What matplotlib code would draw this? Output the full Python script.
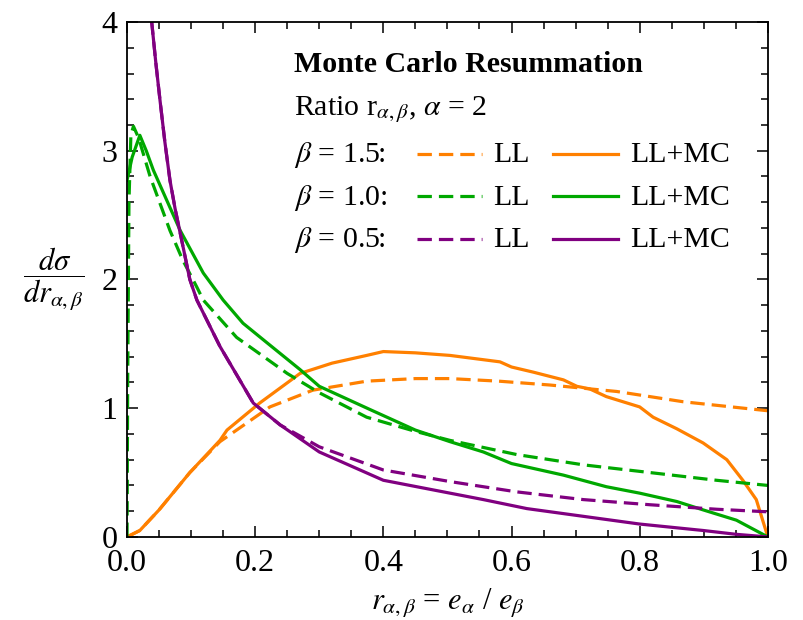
'''

  Monte Carlo resummation: ratio r_{alpha,beta} distributions

'''

import numpy as np
from matplotlib import pyplot as plt
from matplotlib.ticker import MultipleLocator

plt.rcParams['font.family'] = ['Liberation Serif', 'DejaVu Serif']
plt.rcParams['mathtext.fontset'] = 'stix'

# Data

# beta = 1.5
x_o_ll = [0.0, 0.02, 0.05, 0.098, 0.145, 0.171, 0.223, 0.29, 0.374, 0.45, 0.504, 0.58, 0.66, 0.764, 0.868, 1.0]
y_o_ll = [0.0, 0.05, 0.21, 0.50, 0.74, 0.83, 1.01, 1.14, 1.21, 1.23, 1.23, 1.21, 1.18, 1.13, 1.05, 0.98]
x_o_mc = [0.0, 0.02, 0.05, 0.098, 0.145, 0.156, 0.207, 0.27, 0.32, 0.374, 0.40, 0.45, 0.504, 0.582, 0.60, 0.634,
          0.681, 0.702, 0.722, 0.748, 0.80, 0.821, 0.858, 0.899, 0.936, 0.961, 0.982, 1.0]
y_o_mc = [0.0, 0.05, 0.21, 0.50, 0.75, 0.83, 1.04, 1.27, 1.35, 1.41, 1.44, 1.43, 1.41, 1.36, 1.32, 1.28,
          1.22, 1.17, 1.15, 1.09, 1.01, 0.93, 0.84, 0.73, 0.60, 0.44, 0.29, 0.0]

# beta = 1.0
x_g_ll = [0.0, 0.001, 0.003, 0.006, 0.01, 0.018, 0.036, 0.067, 0.087, 0.109, 0.119, 0.171, 0.25, 0.30, 0.374,
          0.45, 0.504, 0.608, 0.712, 0.816, 0.92, 1.0]
y_g_ll = [0.0, 1.2, 2.6, 3.12, 3.19, 3.1, 2.80, 2.38, 2.15, 1.94, 1.84, 1.55, 1.27, 1.12, 0.93,
          0.82, 0.75, 0.64, 0.56, 0.50, 0.44, 0.40]
x_g_mc = [0.0, 0.008, 0.02, 0.03, 0.041, 0.083, 0.119, 0.15, 0.181, 0.218, 0.27, 0.30, 0.379, 0.45,
          0.504, 0.556, 0.60, 0.681, 0.748, 0.80, 0.858, 0.899, 0.951, 1.0]
y_g_mc = [2.77, 2.95, 3.12, 3.0, 2.85, 2.38, 2.05, 1.84, 1.66, 1.51, 1.30, 1.17, 0.99, 0.83,
          0.74, 0.66, 0.57, 0.48, 0.39, 0.34, 0.275, 0.21, 0.13, 0.0]

# beta = 0.5
x_p_ll = [0.03, 0.0385, 0.045, 0.0515, 0.059, 0.067, 0.075, 0.083, 0.098, 0.109, 0.145, 0.197, 0.239, 0.30, 0.40,
          0.504, 0.608, 0.712, 0.816, 0.92, 1.0]
y_p_ll = [4.5, 4.0, 3.68, 3.39, 3.07, 2.77, 2.55, 2.36, 2.0, 1.84, 1.48, 1.04, 0.87, 0.70, 0.52,
          0.43, 0.35, 0.29, 0.25, 0.215, 0.195]
x_p_mc = [0.03, 0.0385, 0.045, 0.0515, 0.059, 0.067, 0.075, 0.083, 0.098, 0.109, 0.145, 0.197, 0.239, 0.30, 0.40,
          0.504, 0.556, 0.624, 0.712, 0.80, 0.899, 0.951, 1.0]
y_p_mc = [4.5, 4.0, 3.68, 3.39, 3.07, 2.77, 2.55, 2.36, 2.0, 1.84, 1.48, 1.04, 0.87, 0.66, 0.44,
          0.34, 0.29, 0.22, 0.16, 0.10, 0.05, 0.02, 0.0]

betas = ['1.5', '1.0', '0.5']
colors = ['#ff8000', '#00a800', '#800080']
curves_ll = [(x_o_ll, y_o_ll), (x_g_ll, y_g_ll), (x_p_ll, y_p_ll)]
curves_mc = [(x_o_mc, y_o_mc), (x_g_mc, y_g_mc), (x_p_mc, y_p_mc)]

# Plot

fig = plt.figure(figsize=(8.04, 6.2), dpi=100)
ax = fig.add_axes([0.158, 0.134, 0.797, 0.8305])

lw = 2.3
dash = (4.5, 2.2)
for (xl, yl), (xm, ym), c in zip(curves_ll, curves_mc, colors):
    ax.plot(xl, yl, '--', color=c, lw=lw, dashes=dash)
    ax.plot(xm, ym, '-', color=c, lw=lw)

ax.set_xlim(0, 1)
ax.set_ylim(0, 4)
ax.xaxis.set_minor_locator(MultipleLocator(0.05))
ax.yaxis.set_minor_locator(MultipleLocator(0.2))
ax.set_xticks([0, 0.2, 0.4, 0.6, 0.8, 1.0])
ax.set_xticklabels(['0.0', '0.2', '0.4', '0.6', '0.8', '1.0'])
ax.set_yticks([0, 1, 2, 3, 4])
ax.set_yticklabels(['0', '1', '2', '3', '4'])
ax.tick_params(which='both', direction='in', top=True, right=True, width=1.1, labelsize=23)
ax.tick_params(axis='x', which='major', length=8, pad=9)
ax.tick_params(axis='y', which='major', length=8, pad=7)
ax.tick_params(which='minor', length=5)
for s in ax.spines.values():
    s.set_linewidth(1.3)

ax.set_xlabel(r'$r_{\alpha,\beta}$ = $e_\alpha$ / $e_\beta$', fontsize=22, va='center')
ax.xaxis.set_label_coords(0.5, -0.128)
ax.set_ylabel(r'$\dfrac{d\sigma}{dr_{\alpha,\beta}}$', fontsize=22, rotation=0, va='center', ha='center')
ax.yaxis.set_label_coords(-0.115, 0.5)

# Legend block, drawn by hand
tr = ax.transAxes
fs = 21.5
ax.text(0.26, 0.9025, 'Monte Carlo Resummation', transform=tr, fontsize=fs, fontweight='bold', va='baseline')
ax.text(0.26, 0.82, r'Ratio r$_{\alpha,\beta}$, $\alpha$ = 2', transform=tr, fontsize=fs, va='baseline')
row_y = [0.7275, 0.645, 0.5625]
for b, c, yy in zip(betas, colors, row_y):
    ax.text(0.26, yy, r'$\beta$ = %s:' % b, transform=tr, fontsize=fs, va='baseline')
    ax.plot([0.452, 0.554], [yy + 0.017, yy + 0.017], '--', color=c, lw=lw, dashes=dash, transform=tr)
    ax.text(0.571, yy, 'LL', transform=tr, fontsize=fs, va='baseline')
    ax.plot([0.665, 0.766], [yy + 0.017, yy + 0.017], '-', color=c, lw=lw, transform=tr)
    ax.text(0.785, yy, 'LL+MC', transform=tr, fontsize=fs, va='baseline')

plt.savefig('out.png', dpi=100)
